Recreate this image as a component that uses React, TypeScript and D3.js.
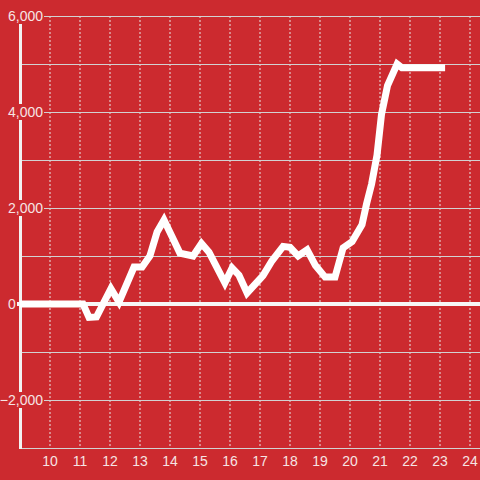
import React from "react";
import * as d3 from "d3";

const hours: number[] = [9, 11.1, 11.3, 11.55, 12.03, 12.3, 12.8, 13.07, 13.33, 13.57, 13.8, 14.07, 14.33, 14.77, 15.05, 15.3, 15.83, 16.07, 16.3, 16.57, 17.1, 17.4, 17.77, 18.0, 18.27, 18.57, 18.85, 19.17, 19.5, 19.77, 20.07, 20.4, 20.55, 20.72, 20.9, 21.05, 21.25, 21.57, 21.73, 23.17];
const values: number[] = [0, 0, -280, -270, 320, 40, 770, 770, 1000, 1500, 1750, 1400, 1060, 1000, 1260, 1080, 440, 750, 600, 230, 590, 900, 1200, 1180, 1000, 1130, 800, 560, 560, 1170, 1300, 1650, 2080, 2500, 3100, 3950, 4550, 5000, 4920, 4920];
const xTicks: number[] = [10, 11, 12, 13, 14, 15, 16, 17, 18, 19, 20, 21, 22, 23, 24];
const yGrid: number[] = [-3000, -2000, -1000, 1000, 2000, 3000, 4000, 5000, 6000];
const yLabels: number[] = [6000, 4000, 2000, 0, -2000];

const W = 480, H = 480;
const BG = "#cc2a2f";
const TXT = "#f6e4e4";

export default function App() {
  const x = d3.scaleLinear().domain([9, 24.333]).range([20, 480]);
  const y = d3.scaleLinear().domain([-3000, 6000]).range([448, 16]);
  const fmt = d3.format(",");
  const line = d3.line<number>().x((_, i) => x(hours[i])).y((v) => y(v));
  const pathD = line(values) || "";
  return (
    <svg width={W} height={H} style={{ position: "absolute", left: 0, top: 0, display: "block" }} fontFamily="'Liberation Sans', Arial, sans-serif">
      <rect x={0} y={0} width={W} height={H} fill={BG} />
      {xTicks.map((t) => (
        <line key={"v" + t} x1={x(t)} x2={x(t)} y1={y(6000)} y2={y(-3000)} stroke="#e8e8e8" strokeWidth={1} strokeDasharray="2,2" />
      ))}
      {yGrid.map((t) => (
        <line key={"h" + t} x1={22} x2={W} y1={y(t) + 0.5} y2={y(t) + 0.5} stroke="#d2d2d2" strokeWidth={1} />
      ))}
      <line x1={20.5} x2={20.5} y1={y(6000)} y2={y(-3000) + 1} stroke="#f2f2f2" strokeWidth={3} />
      <line x1={17} x2={W} y1={y(0)} y2={y(0)} stroke="#f7f7f7" strokeWidth={4} />
      {yLabels.map((t) =>
        t === 0 ? (
          <text key={"yl" + t} x={8} y={y(t) + 5} fill={TXT} fontSize={14}>{fmt(t)}</text>
        ) : (
          <g key={"yl" + t}>
            <rect x={0} y={y(t) - 8} width={44} height={16} fill={BG} />
            <text x={43} y={y(t) + 5} fill={TXT} fontSize={14} textAnchor="end">{fmt(t)}</text>
          </g>
        )
      )}
      {xTicks.map((t) => (
        <text key={"xl" + t} x={x(t)} y={466} fill={TXT} fontSize={14} textAnchor="middle">{t}</text>
      ))}
      <path d={pathD} fill="none" stroke="#ffffff" strokeWidth={7} strokeLinejoin="miter" />
    </svg>
  );
}
